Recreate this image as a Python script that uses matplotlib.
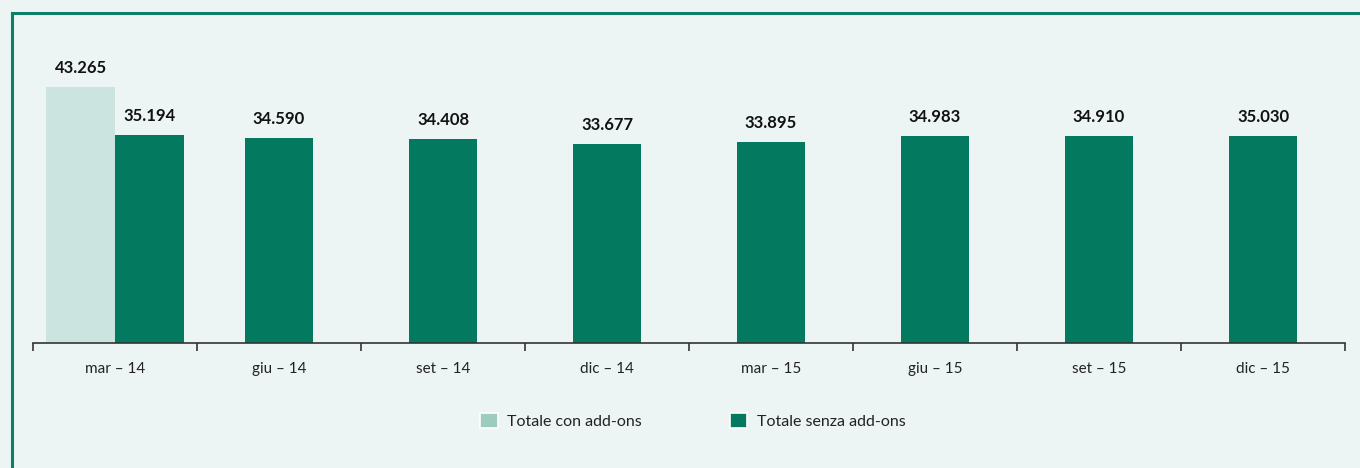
import matplotlib
matplotlib.use("Agg")
import matplotlib.pyplot as plt
from matplotlib.patches import Patch
from matplotlib.lines import Line2D

categories = ["mar – 14", "giu – 14", "set – 14", "dic – 14", "mar – 15", "giu – 15", "set – 15", "dic – 15"]
senza_addons = [35194, 34590, 34408, 33677, 33895, 34983, 34910, 35030]
con_addons = [43265]  # only first period
series_names = ["Totale con add-ons", "Totale senza add-ons"]

BG = "#EDF5F4"
DARK = "#037A60"
LIGHT = "#CCE4DF"
LIGHT_LEG = "#9CCCC0"
FRAME = "#0E7F66"

plt.rcParams['font.family'] = ['Lato', 'DejaVu Sans']

W, H = 1360, 468
fig = plt.figure(figsize=(W / 100, H / 100), dpi=100, facecolor=BG)
ax = fig.add_axes([33 / W, (H - 343) / H, (1345 - 33) / W, (343 - 40) / H])
ax.set_facecolor(BG)

bw = 0.42
def fmt(v):
    return f"{v:,}".replace(",", ".")

xs = list(range(len(categories)))
for i, v in enumerate(senza_addons):
    if i < len(con_addons):
        x_light = i - bw / 2
        x_dark = i + bw / 2
        ax.bar(x_light, con_addons[i], width=bw, color=LIGHT, zorder=2)
        ax.annotate(fmt(con_addons[i]), (x_light, con_addons[i]), xytext=(0, 8),
                    textcoords="offset points", ha="center", va="bottom",
                    fontsize=12, fontweight="bold", color="#111111")
    else:
        x_dark = i
    ax.bar(x_dark, v, width=bw, color=DARK, zorder=2)
    ax.annotate(fmt(v), (x_dark, v), xytext=(0, 8),
                textcoords="offset points", ha="center", va="bottom",
                fontsize=12, fontweight="bold", color="#111111")

ax.set_xlim(-0.5, len(categories) - 0.5)
ax.set_ylim(0, 51210)
for s in ["top", "right", "left"]:
    ax.spines[s].set_visible(False)
ax.spines["bottom"].set_color("#333333")
ax.spines["bottom"].set_linewidth(1.2)
ax.set_yticks([])
ax.set_xticks([i - 0.5 for i in range(len(categories) + 1)])
ax.set_xticklabels([])
ax.tick_params(axis="x", which="major", direction="out", length=6, width=1.2, color="#333333")
ax.set_xticks(xs, minor=True)
ax.set_xticklabels(categories, minor=True, fontsize=11, color="#222222")
ax.tick_params(axis="x", which="minor", length=0, pad=14)

handles = [Patch(facecolor=LIGHT_LEG, edgecolor="white", linewidth=1.2, label=series_names[0]),
           Patch(facecolor=DARK, edgecolor="white", linewidth=1.2, label=series_names[1])]
fig.legend(handles=handles, loc="center", bbox_to_anchor=(693 / W, 1 - 421 / H), ncol=2,
           frameon=False, fontsize=11.5, handlelength=1.1, handleheight=1.1,
           handletextpad=0.6, columnspacing=5.5, labelcolor="#222222")

fig.add_artist(Line2D([12 / W, 1.0], [1 - 13 / H, 1 - 13 / H], color=FRAME, lw=2.2,
                      transform=fig.transFigure))
fig.add_artist(Line2D([12 / W, 12 / W], [0, 1 - 13 / H], color=FRAME, lw=2.2,
                      transform=fig.transFigure))

fig.savefig("out.png", dpi=100, facecolor=BG)
